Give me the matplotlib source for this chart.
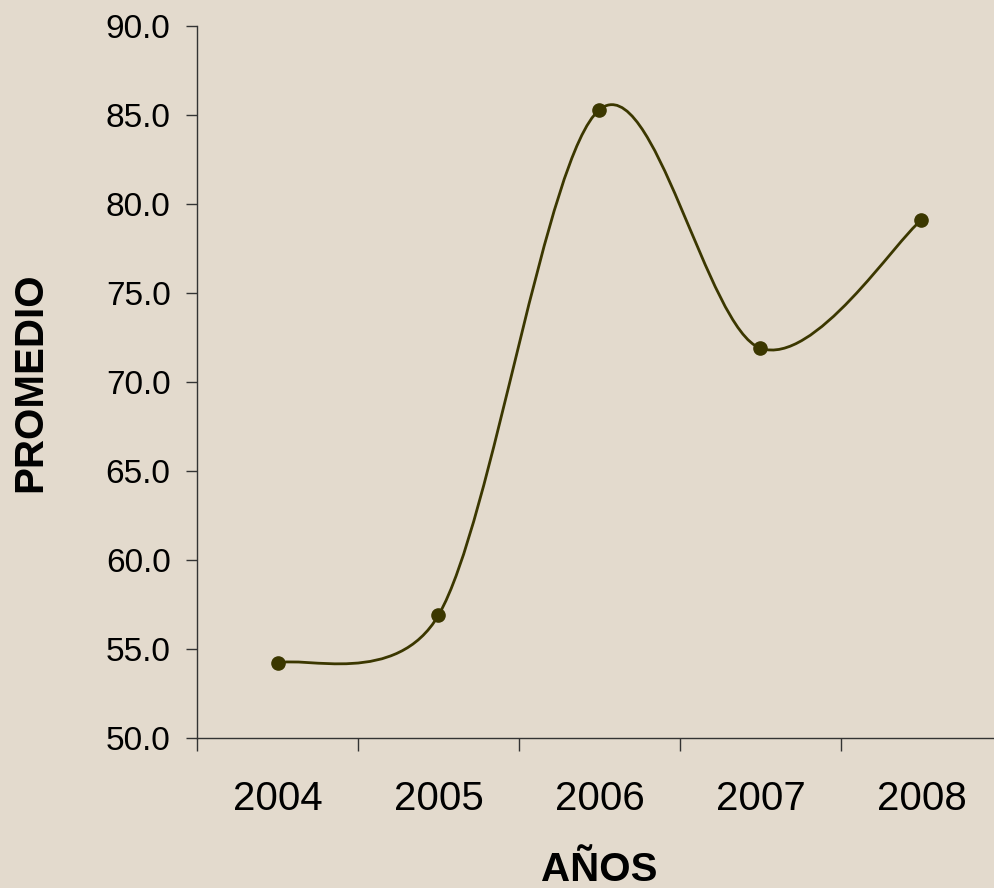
import numpy as np
import matplotlib
matplotlib.use("Agg")
import matplotlib.pyplot as plt
from matplotlib.path import Path
from matplotlib.patches import PathPatch
from matplotlib.ticker import FixedLocator, FormatStrFormatter

# --- data ---
years = ["2004", "2005", "2006", "2007", "2008"]
promedio = [54.2, 56.9, 85.3, 71.9, 79.1]

BG = "#E3DACD"
LINE = "#3B3700"

plt.rcParams["font.family"] = ["Liberation Sans", "DejaVu Sans"]

fig = plt.figure(figsize=(9.95, 8.88), dpi=100, facecolor=BG)
ax = fig.add_axes([0.198, 0.1689, 0.809, 0.8018])
ax.set_facecolor(BG)

x = np.arange(len(years))
ax.set_xlim(-0.5, len(years) - 0.5)
ax.set_ylim(50, 90)
ax.set_yticks(np.arange(50, 90.1, 5))
ax.yaxis.set_major_formatter(FormatStrFormatter("%.1f"))
ax.set_xticks(x)
ax.set_xticklabels(years)
ax.xaxis.set_minor_locator(FixedLocator(np.arange(-0.5, len(years), 1.0)))

for s in ["top", "right"]:
    ax.spines[s].set_visible(False)
for s in ["left", "bottom"]:
    ax.spines[s].set_color("#333333")
    ax.spines[s].set_linewidth(1.0)

ax.tick_params(axis="y", direction="out", length=8, width=1, color="#333333",
               pad=11, labelsize=24)
ax.tick_params(axis="x", which="major", length=0, pad=30, labelsize=29)
ax.tick_params(axis="x", which="minor", direction="out", length=9, width=1,
               color="#333333")

ax.set_ylabel("PROMEDIO", fontsize=29, fontweight="bold", labelpad=41)
ax.set_xlabel("AÑOS", fontsize=29, fontweight="bold", labelpad=24)

# smoothed line: catmull-rom style bezier in screen space (like excel),
# control arm limited to half of its segment length
pts = np.column_stack([x, promedio]).astype(float)
scr = ax.transData.transform(pts)
inv = ax.transData.inverted()
n = len(scr)
ext = np.vstack([scr[0], scr, scr[-1]])


def limit(arm, seg):
    L = np.hypot(*arm)
    m = 0.5 * np.hypot(*seg)
    return arm * (m / L) if L > m else arm


verts = [scr[0]]
codes = [Path.MOVETO]
for i in range(n - 1):
    p0, p1, p2, p3 = ext[i], ext[i + 1], ext[i + 2], ext[i + 3]
    c1 = p1 + limit((p2 - p0) / 6, p2 - p1)
    c2 = p2 - limit((p3 - p1) / 6, p2 - p1)
    verts += [c1, c2, p2]
    codes += [Path.CURVE4] * 3
verts = inv.transform(np.array(verts))
ax.add_patch(PathPatch(Path(verts, codes), facecolor="none", edgecolor=LINE,
                       linewidth=2.0, zorder=2))
ax.plot(x, promedio, linestyle="none", marker="o", markersize=9.5,
        color=LINE, zorder=3, clip_on=False)

fig.savefig("out.png", dpi=100, facecolor=BG)
